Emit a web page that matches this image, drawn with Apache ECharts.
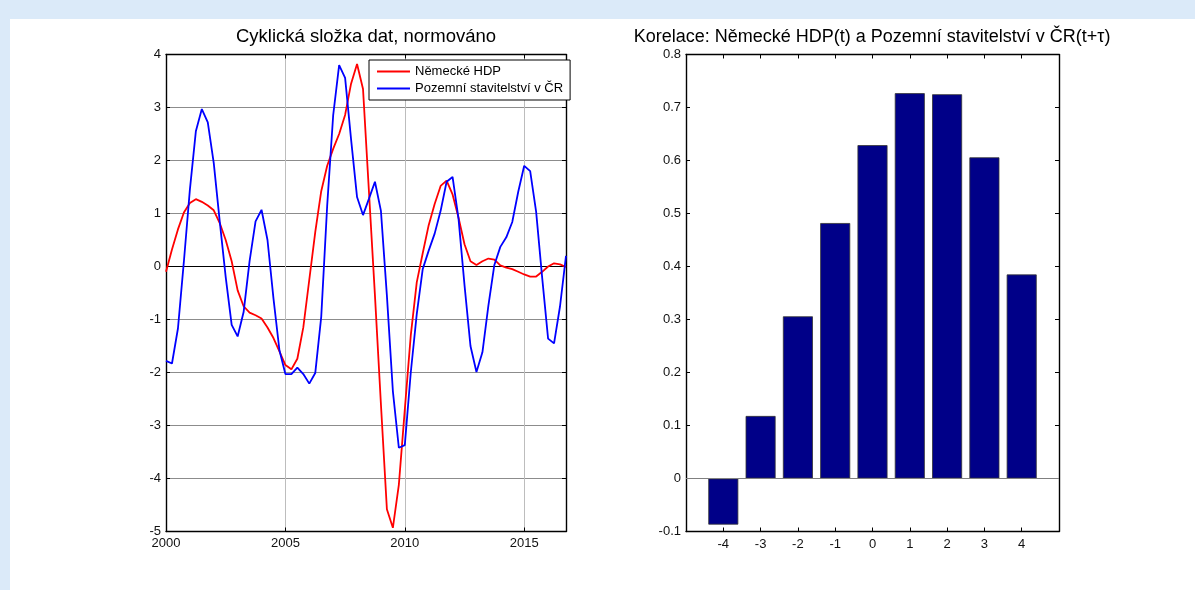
<!DOCTYPE html>
<html>
<head>
<meta charset="utf-8">
<script src="https://cdn.jsdelivr.net/npm/echarts@6/dist/echarts.min.js"></script>
<style>
  html, body { margin: 0; padding: 0; background: #dbeaf9; }
  #wrap { position: relative; width: 1195px; height: 590px; background: #dbeaf9; overflow: hidden; }
  #panel { position: absolute; left: 10px; top: 19px; right: 0; bottom: 0; background: #ffffff; }
  #chart { position: absolute; left: 0; top: 0; width: 1195px; height: 590px; }
</style>
</head>
<body>
<div id="wrap"><div id="panel"></div><div id="chart"></div></div>
<script>
// Quarterly cyclical components (normalised), 2000Q1 – 2016Q4
const startYear = 2000;
const germanGdp = [
  -0.10, 0.32, 0.70, 1.02, 1.20, 1.27, 1.22, 1.15, 1.06, 0.82,
   0.50, 0.10, -0.45, -0.75, -0.87, -0.92, -0.98, -1.15, -1.35, -1.60,
  -1.86, -1.94, -1.74, -1.15, -0.25, 0.65, 1.42, 1.90, 2.22, 2.50,
   2.86, 3.45, 3.82, 3.35, 1.40, -0.55, -2.60, -4.58, -4.93, -4.12,
  -2.70, -1.30, -0.30, 0.25, 0.78, 1.18, 1.52, 1.62, 1.36, 0.92,
   0.42, 0.10, 0.03, 0.10, 0.15, 0.13, 0.02, -0.02, -0.05, -0.10,
  -0.15, -0.19, -0.19, -0.10, 0.00, 0.06, 0.04, -0.01
];
const czBuilding = [
  -1.78, -1.83, -1.17, 0.10, 1.45, 2.55, 2.97, 2.72, 1.95, 0.85,
  -0.20, -1.10, -1.32, -0.86, 0.10, 0.85, 1.07, 0.50, -0.60, -1.58,
  -2.03, -2.03, -1.91, -2.03, -2.21, -2.01, -0.95, 1.15, 2.85, 3.80,
   3.56, 2.40, 1.31, 0.97, 1.28, 1.60, 1.05, -0.55, -2.35, -3.42,
  -3.37, -2.00, -0.90, -0.05, 0.30, 0.62, 1.05, 1.60, 1.69, 0.90,
  -0.35, -1.50, -1.99, -1.62, -0.74, 0.03, 0.37, 0.55, 0.84, 1.41,
   1.90, 1.80, 1.03, -0.20, -1.36, -1.45, -0.75, 0.20
];

// Cross-correlation by lag τ
const lags = [-4, -3, -2, -1, 0, 1, 2, 3, 4];
const correlations = [-0.087, 0.118, 0.306, 0.482, 0.629, 0.727, 0.725, 0.606, 0.385];

const seriesNames = ['Německé HDP', 'Pozemní stavitelství v ČR'];
const leftTitle = 'Cyklická složka dat, normováno';
const rightTitle = 'Korelace: Německé HDP(t) a Pozemní stavitelství v ČR(t+τ)';

const FONT = '"Liberation Sans", Arial, Helvetica, sans-serif';
const quarterTime = germanGdp.map((_, i) => startYear + i / 4);
const lastTime = quarterTime[quarterTime.length - 1];

const axisLine = { show: true, onZero: false, lineStyle: { color: '#000', width: 1.4 } };
const tickIn = { show: true, inside: true, length: 4, lineStyle: { color: '#000', width: 1 } };
const labelStyle = { color: '#111', fontFamily: FONT, fontSize: 13 };

function mirrorAxis(base, position) {
  return Object.assign({}, base, {
    position: position,
    axisLabel: { show: false },
    splitLine: { show: false }
  });
}

// Left panel axes
const leftX = {
  type: 'value', gridIndex: 0, min: startYear, max: lastTime, interval: 5,
  axisLine: axisLine, axisTick: tickIn,
  axisLabel: Object.assign({}, labelStyle, {
    margin: 5, formatter: v => (v % 5 === 0 ? String(v) : '')
  }),
  splitLine: { show: true, lineStyle: { color: '#bdbdbd', width: 1 } }
};
// horizontal grid lines; the line at zero is drawn in black
const yTicks = [-5, -4, -3, -2, -1, 0, 1, 2, 3, 4];
const leftY = {
  type: 'value', gridIndex: 0, min: -5, max: 4, interval: 1,
  axisLine: axisLine, axisTick: tickIn,
  axisLabel: Object.assign({}, labelStyle, { margin: 5 }),
  splitLine: { show: true, lineStyle: { width: 1, color: yTicks.map(t => (t === 0 ? '#000' : '#8c8c8c')) } }
};

// Right panel axes
const rightX = {
  type: 'value', gridIndex: 1, min: -5, max: 5, interval: 1,
  axisLine: axisLine, axisTick: tickIn,
  axisLabel: Object.assign({}, labelStyle, {
    margin: 6, formatter: v => (v > -5 && v < 5 ? String(v) : '')
  }),
  splitLine: { show: false }
};
const rightY = {
  type: 'value', gridIndex: 1, min: -0.1, max: 0.8, interval: 0.1,
  axisLine: axisLine, axisTick: tickIn,
  axisLabel: Object.assign({}, labelStyle, { margin: 5, formatter: v => String(+v.toFixed(1)) }),
  splitLine: { show: false }
};

const option = {
  animation: false,
  backgroundColor: 'transparent',
  textStyle: { fontFamily: FONT },
  grid: [
    { left: 166, top: 54.5, width: 400, height: 477, containLabel: false },
    { left: 686, top: 54.5, width: 373, height: 477, containLabel: false }
  ],
  xAxis: [leftX, mirrorAxis(leftX, 'top'), rightX, mirrorAxis(rightX, 'top')],
  yAxis: [leftY, mirrorAxis(leftY, 'right'), rightY, mirrorAxis(rightY, 'right')],
  legend: {
    show: true,
    data: seriesNames,
    orient: 'vertical',
    left: 369, top: 60,
    padding: [5, 7, 5, 7],
    itemGap: 4,
    itemWidth: 33, itemHeight: 14,
    // plain line keys, no marker
    itemStyle: { opacity: 0, borderWidth: 0 },
    backgroundColor: '#fff',
    borderColor: '#000', borderWidth: 1,
    textStyle: { fontFamily: FONT, fontSize: 13, color: '#000' }
  },
  graphic: [
    { type: 'text', x: 366, y: 37, silent: true,
      style: { text: leftTitle, font: '18.5px ' + FONT, fill: '#000',
               textAlign: 'center', textVerticalAlign: 'middle', align: 'center', verticalAlign: 'middle' } },
    { type: 'text', x: 872, y: 37, silent: true,
      style: { text: rightTitle, font: '18px ' + FONT, fill: '#000',
               textAlign: 'center', textVerticalAlign: 'middle', align: 'center', verticalAlign: 'middle' } }
  ],
  series: [
    {
      name: seriesNames[0], type: 'line', xAxisIndex: 0, yAxisIndex: 0,
      data: germanGdp.map((v, i) => [quarterTime[i], v]),
      symbol: 'none', lineStyle: { color: '#ff0000', width: 1.8 }, itemStyle: { color: '#ff0000' }
    },
    {
      name: seriesNames[1], type: 'line', xAxisIndex: 0, yAxisIndex: 0,
      data: czBuilding.map((v, i) => [quarterTime[i], v]),
      symbol: 'none', lineStyle: { color: '#0000ff', width: 1.8 }, itemStyle: { color: '#0000ff' }
    },
    {
      name: 'korelace', type: 'bar', xAxisIndex: 2, yAxisIndex: 2,
      data: lags.map((l, i) => [l, correlations[i]]),
      barWidth: 30,
      itemStyle: { color: '#000088', borderColor: '#333', borderWidth: 0.8 },
      markLine: {
        silent: true, symbol: 'none', label: { show: false },
        lineStyle: { color: '#808080', width: 1.2, type: 'solid' },
        data: [{ yAxis: 0 }]
      }
    }
  ]
};

const chart = echarts.init(document.getElementById('chart'), null, { renderer: 'canvas' });
chart.setOption(option);
</script>
</body>
</html>
